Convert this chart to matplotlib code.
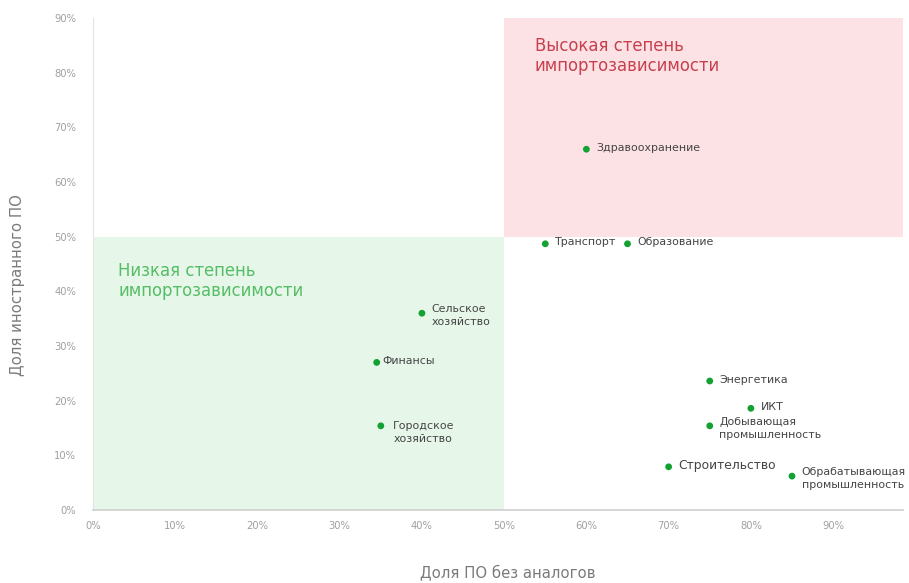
import matplotlib
matplotlib.use("Agg")
import matplotlib.pyplot as plt
from matplotlib.patches import Rectangle
from matplotlib.ticker import FuncFormatter

plt.rcParams['font.family'] = ['DejaVu Sans']

# Sectors: share of software without analogues (x) vs share of foreign software (y)
sectors = [
    "Здравоохранение", "Транспорт", "Образование", "Сельское\nхозяйство",
    "Финансы", "Городское\nхозяйство", "Энергетика", "ИКТ",
    "Добывающая\nпромышленность", "Строительство", "Обрабатывающая\nпромышленность",
]
share_no_analogues = [0.60, 0.55, 0.65, 0.40, 0.345, 0.35, 0.75, 0.80, 0.75, 0.70, 0.85]
share_foreign = [0.66, 0.487, 0.487, 0.36, 0.27, 0.154, 0.236, 0.186, 0.154, 0.079, 0.062]

x_ticks = [0.0, 0.1, 0.2, 0.3, 0.4, 0.5, 0.6, 0.7, 0.8, 0.9]
y_ticks = [0.0, 0.1, 0.2, 0.3, 0.4, 0.5, 0.6, 0.7, 0.8, 0.9]

X_MAX = 0.985
Y_MAX = 0.90
THRESHOLD = 0.5

fig = plt.figure(figsize=(9.09, 5.83), dpi=100)
ax = fig.add_axes([0.1023, 0.1252, 0.8911, 0.8439])
ax.set_xlim(0, X_MAX)
ax.set_ylim(0, Y_MAX)

# Quadrant shading
ax.add_patch(Rectangle((0, 0), THRESHOLD, THRESHOLD, facecolor="#e6f7e9",
                       edgecolor="none", zorder=0))
ax.add_patch(Rectangle((THRESHOLD, THRESHOLD), X_MAX - THRESHOLD, Y_MAX - THRESHOLD,
                       facecolor="#fde2e5", edgecolor="none", zorder=0))

ax.text(0.537, 0.865, "Высокая степень\nимпортозависимости",
        color="#c7404e", fontsize=11.9, va="top", ha="left", linespacing=1.15)
ax.text(0.031, 0.454, "Низкая степень\nимпортозависимости",
        color="#55bd65", fontsize=11.9, va="top", ha="left", linespacing=1.15)

ax.scatter(share_no_analogues, share_foreign, s=24, color="#13a232", zorder=3,
           edgecolors="none")

# Label offsets in points (dx, dy) relative to each dot
label_offsets = {
    "Городское\nхозяйство": (9, -2),
    "Финансы": (4, 1),
}
for name, x, y in zip(sectors, share_no_analogues, share_foreign):
    dx, dy = label_offsets.get(name, (7, 1))
    size = 8.9 if name == "Строительство" else 7.9
    if "\n" in name:
        ax.annotate(name, (x, y), xytext=(dx, dy + 5.5), textcoords="offset points",
                    ha="left", va="top", fontsize=size, color="#444444",
                    linespacing=1.4)
    else:
        ax.annotate(name, (x, y), xytext=(dx, dy), textcoords="offset points",
                    ha="left", va="center", fontsize=size, color="#444444")

pct = FuncFormatter(lambda v, _: f"{round(v * 100)}%")
ax.set_xticks(x_ticks)
ax.set_yticks(y_ticks)
ax.xaxis.set_major_formatter(pct)
ax.yaxis.set_major_formatter(pct)
ax.tick_params(axis="both", length=0, labelsize=7.2, labelcolor="#a0a0a0")
ax.tick_params(axis="x", pad=8)
ax.tick_params(axis="y", pad=12)

for side in ("top", "right"):
    ax.spines[side].set_visible(False)
ax.spines["left"].set_color("#e4e4e4")
ax.spines["bottom"].set_color("#cfcfcf")
ax.spines["bottom"].set_linewidth(1.2)

ax.set_xlabel("Доля ПО без аналогов", fontsize=10.7, color="#7a7a7a", va="center")
ax.set_ylabel("Доля иностранного ПО", fontsize=10.7, color="#7a7a7a", va="center")
ax.xaxis.set_label_coords(0.512, -0.126)
ax.yaxis.set_label_coords(-0.093, 0.457)

fig.savefig("out.png", dpi=100, facecolor="white")
